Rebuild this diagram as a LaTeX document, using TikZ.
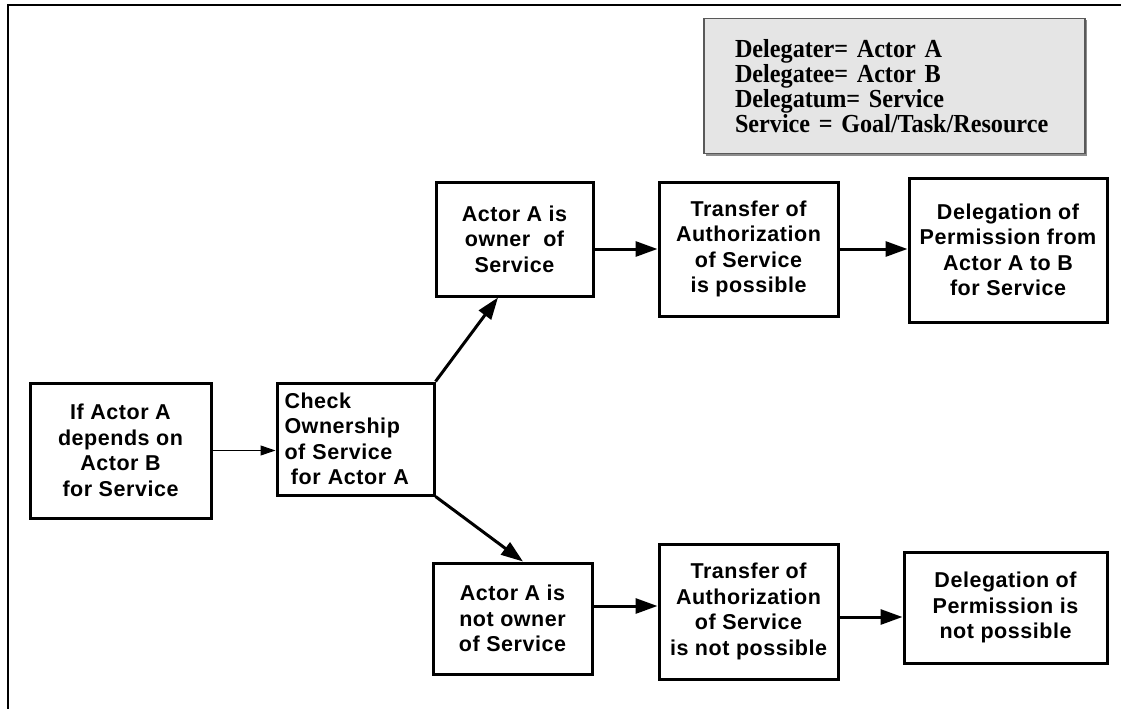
\documentclass[tikz,border=0pt]{standalone}
\usepackage{fontspec}
\setmainfont{Liberation Sans}
\newfontfamily\boxfont{Liberation Sans}[LetterSpace=2.5]
\newfontfamily\legendfont{Liberation Serif}[FakeStretch=0.93]
\usetikzlibrary{arrows.meta}
\begin{document}
\begin{tikzpicture}[x=1pt,y=-1pt,
  stepbox/.style={draw, line width=3pt, inner sep=0pt, align=center,
    font=\boxfont\bfseries\fontsize{21.5}{25.5}\selectfont},
  legendbox/.style={draw=black!65, line width=1.5pt, fill=black!10,
    inner xsep=31pt, inner ysep=0pt, align=left, text width=319pt,
    minimum height=135pt, font=\legendfont\bfseries\fontsize{26}{25}\selectfont},
  flow/.style={line width=3pt, -{Triangle[length=22pt,width=15pt]}},
  thinflow/.style={line width=1pt, -{Triangle[length=15pt,width=10pt]}}]
\useasboundingbox (0,0) rectangle (1121,709);

% outer frame (top and left edges)
\draw[line width=2pt] (1121,5) -- (8,5) -- (8,709);

% definitions, with a soft shadow on the lower right
\fill[black!45] (705.5,20.5) rectangle (1087,155.5);
\node[legendbox] (legend) at (894.5,86)
  {Delegater= Actor A\\Delegatee= Actor B\\Delegatum= Service\\Service = Goal/Task/Resource};

% process steps
\node[stepbox, minimum width=181pt, minimum height=135pt] (dep) at (120.5,450.5)
  {If Actor A\\depends on\\Actor B\\for Service};
\node[stepbox, minimum width=157pt, minimum height=112pt, align=left, text width=142pt] (check) at (355.5,439)
  {Check\\Ownership\\of Service\\\hspace{0.3em}for Actor A};
\node[stepbox, minimum width=157pt, minimum height=114pt] (own) at (514.5,239)
  {Actor A is\\owner\ \ of\\Service};
\node[stepbox, minimum width=179pt, minimum height=134pt] (tyes) at (748.5,249)
  {Transfer of\\Authorization\\of Service\\is possible};
\node[stepbox, minimum width=198pt, minimum height=144pt] (dyes) at (1008,250)
  {Delegation of\\Permission from\\Actor A to B\\for Service};
\node[stepbox, minimum width=159pt, minimum height=111pt] (notown) at (512.5,618.5)
  {Actor A is\\not owner\\of Service};
\node[stepbox, minimum width=179pt, minimum height=135pt] (tno) at (748.5,611.5)
  {Transfer of\\Authorization\\of Service\\is not possible};
\node[stepbox, minimum width=203pt, minimum height=111pt] (dno) at (1005.5,607.5)
  {Delegation of\\Permission is\\not possible};

% connectors
\draw[thinflow] (dep.east) -- (dep.east -| check.west);
\draw[flow] (check.north east) -- ([xshift=-16.5pt]own.south);
\draw[flow] (check.south east) -- ([xshift=10.5pt]notown.north);
\draw[flow] (tyes.west -| own.east) -- (tyes.west);
\draw[flow] (tyes.east) -- (tyes.east -| dyes.west);
\draw[flow] ([yshift=12.5pt]notown.east) -- ([yshift=12.5pt]notown.east -| tno.west);
\draw[flow] ([yshift=-5.5pt]tno.east) -- ([yshift=-5.5pt]tno.east -| dno.west);
\end{tikzpicture}
\end{document}
